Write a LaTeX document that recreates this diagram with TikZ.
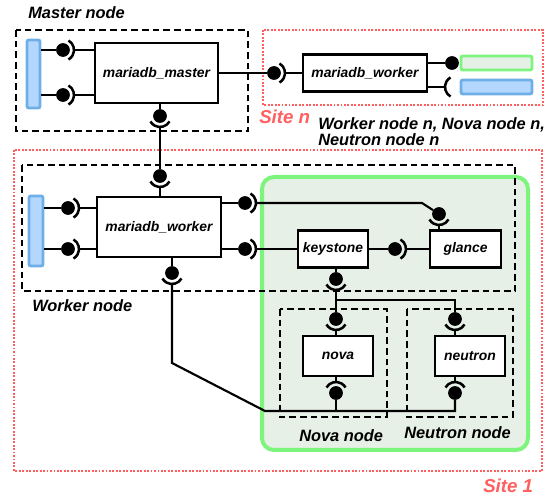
\documentclass[tikz,border=0pt]{standalone}
\usepackage{fontspec}
\setmainfont{Liberation Sans}
\usepackage{tikz}

\definecolor{siteRed}{RGB}{255,95,95}
\definecolor{zoneGreen}{RGB}{125,245,125}
\definecolor{zoneFill}{RGB}{230,240,230}
\definecolor{barBlue}{RGB}{180,215,255}
\definecolor{barEdge}{RGB}{110,175,230}

\tikzset{
  wire/.style={line width=1.6pt},
  comp/.style={draw, fill=white, line width=1.6pt, inner sep=0pt, font=\bfseries\itshape\fontsize{10.4}{12}\selectfont},
  ball/.style={circle, fill=black, inner sep=0pt, minimum size=10.3pt},
  nodebox/.style={draw, line width=1.5pt, dash pattern=on 5pt off 3pt},
  sitebox/.style={draw=siteRed, line width=1.4pt, dash pattern=on 1.4pt off 1.2pt},
  lbl/.style={anchor=base west, inner sep=0pt, font=\bfseries\itshape\fontsize{12.3}{14}\selectfont},
  sitelbl/.style={anchor=base west, inner sep=0pt, text=siteRed, font=\bfseries\itshape\fontsize{14}{16}\selectfont},
  bluebar/.style={draw=barEdge, fill=barBlue, line width=2.2pt, rounded corners=1.5pt, inner sep=0pt},
  greenbar/.style={draw=zoneGreen, fill=zoneFill, line width=2.2pt, rounded corners=1.5pt, inner sep=0pt}
}

% ball with its socket arc, #3 = side of the arc
\newcommand{\port}[3]{%
  \node[ball] (#1) at (#2) {};
  \draw[line width=1.9pt] ([shift={(#3-60:11)}]#1.center) arc[start angle=#3-60, end angle=#3+60, radius=11];
  \coordinate (#1-s) at ([shift={(#3:11)}]#1.center);
}

\begin{document}
\begin{tikzpicture}[x=0.75pt,y=0.75pt,yscale=-1,xscale=1]
\path[use as bounding box] (0,0) rectangle (557,498);

% sites and zones
\draw[sitebox] (263,30) rectangle (543,105);
\draw[sitebox] (14,150) rectangle (542,471);
\draw[draw=zoneGreen, fill=zoneFill, line width=3pt, rounded corners=9pt] (262,177) rectangle (528,450);
\draw[nodebox] (16,30) rectangle (248,131);
\draw[nodebox] (22,165) rectangle (515,291);
\draw[nodebox] (280,309) rectangle (387,417);
\draw[nodebox] (407,309) rectangle (513,417);

% labels
\node[lbl] (lmaster) at (28,18.5) {Master node};
\node[sitelbl] (lsiten) at (259,124) {Site n};
\node[lbl] (lworkn) at (318,130) {Worker node n, Nova node n,};
\node[lbl] (lneutn) at (318,146) {Neutron node n};
\node[lbl] (lworker) at (32,312) {Worker node};
\node[lbl] (lnova) at (299,442) {Nova node};
\node[lbl] (lneutron) at (404,439) {Neutron node};
\node[sitelbl] (lsite1) at (483,493) {Site 1};

% components
\node[comp, minimum width=92.25pt, minimum height=45pt] (master) at (156.5,73) {mariadb\_master};
\node[comp, minimum width=93pt, minimum height=27.75pt] (wn) at (365,73) {mariadb\_worker};
\node[comp, minimum width=93pt, minimum height=45pt] (ww) at (159,227) {mariadb\_worker};
\node[comp, minimum width=52.5pt, minimum height=27.75pt] (keystone) at (333,249) {keystone};
\node[comp, minimum width=53.25pt, minimum height=27.75pt] (glance) at (465.5,249) {glance};
\node[comp, minimum width=52.5pt, minimum height=30pt] (nova) at (338,356) {nova};
\node[comp, minimum width=52.5pt, minimum height=30pt] (neutron) at (470,356) {neutron};

% storage bars
\node[bluebar, minimum width=9.75pt, minimum height=51pt] (mbar) at (33.5,74) {};
\node[bluebar, minimum width=10.5pt, minimum height=52.5pt] (wbar) at (36,231) {};
\node[greenbar, minimum width=53.25pt, minimum height=10.5pt] (gbar) at (496.5,63) {};
\node[bluebar, minimum width=53.25pt, minimum height=10.5pt] (bbar) at (496.5,87) {};

% ports
\port{pm1}{63,50}{0}
\port{pm2}{63,95}{0}
\port{pm3}{160,116}{90}
\port{pn1}{274,73}{0}
\node[ball] (pn2) at (452,63) {};
\coordinate (sn) at (456,87);
\draw[line width=1.9pt] ([shift={(120:11)}]sn) arc[start angle=120, end angle=240, radius=11];
\coordinate (sn-s) at ([shift={(180:11)}]sn);
\port{pw1}{160,176}{90}
\port{pw2}{68,208}{0}
\port{pw3}{68,249}{0}
\port{pw4}{172,273}{90}
\port{pw5}{245,203}{0}
\port{pw6}{245,249}{0}
\port{pk1}{395,249}{0}
\port{pg1}{439,214}{90}
\port{pk2}{336,279}{90}
\port{pnv1}{336,319}{90}
\port{pnt1}{455,319}{90}
\port{pnv2}{336,393}{270}
\port{pnt2}{455,393}{270}

\coordinate (bendg) at (422,203);
\coordinate (split) at (336,300);
\coordinate (bend1) at (172,363);
\coordinate (bend2) at (265,411);

% master node
\draw[wire] (mbar.east |- pm1) -- (pm1);
\draw[wire] (pm1-s) -- (master.west |- pm1-s);
\draw[wire] (mbar.east |- pm2) -- (pm2);
\draw[wire] (pm2-s) -- (master.west |- pm2-s);
\draw[wire] (master.south -| pm3) -- (pm3);
\draw[wire] (pm3-s) -- (pw1);
\draw[wire] (master.east) -- (pn1);
\draw[wire] (pn1-s) -- (wn.west);
\draw[wire] (wn.east |- pn2) -- (pn2);
\draw[wire] (wn.east |- sn-s) -- (sn-s);

% worker node
\draw[wire] (wbar.east |- pw2) -- (pw2);
\draw[wire] (pw2-s) -- (ww.west |- pw2-s);
\draw[wire] (wbar.east |- pw3) -- (pw3);
\draw[wire] (pw3-s) -- (ww.west |- pw3-s);
\draw[wire] (pw1-s) -- (ww.north -| pw1-s);
\draw[wire] (ww.south -| pw4) -- (pw4);
\draw[wire] (ww.east |- pw5) -- (pw5);
\draw[wire] (pw5-s) -- (bendg) -- (pg1);
\draw[wire] (ww.east |- pw6) -- (pw6);
\draw[wire] (pw6-s) -- (keystone.west |- pw6-s);
\draw[wire] (keystone.east |- pk1) -- (pk1);
\draw[wire] (pk1-s) -- (glance.west |- pk1-s);
\draw[wire] (pg1-s) -- (glance.north -| pg1-s);
\draw[wire] (keystone.south -| pk2) -- (pk2);

% nova and neutron nodes
\draw[wire] (pk2-s) -- (pnv1);
\draw[wire] (split) -| (pnt1);
\draw[wire] (pnv1-s) -- (nova.north -| pnv1-s);
\draw[wire] (pnt1-s) -- (neutron.north -| pnt1-s);
\draw[wire] (nova.south -| pnv2-s) -- (pnv2-s);
\draw[wire] (neutron.south -| pnt2-s) -- (pnt2-s);
\draw[wire] (pw4-s) -- (bend1) -- (bend2) -| (pnt2);
\draw[wire] (pnv2) -- (pnv2 |- bend2);

\end{tikzpicture}
\end{document}
